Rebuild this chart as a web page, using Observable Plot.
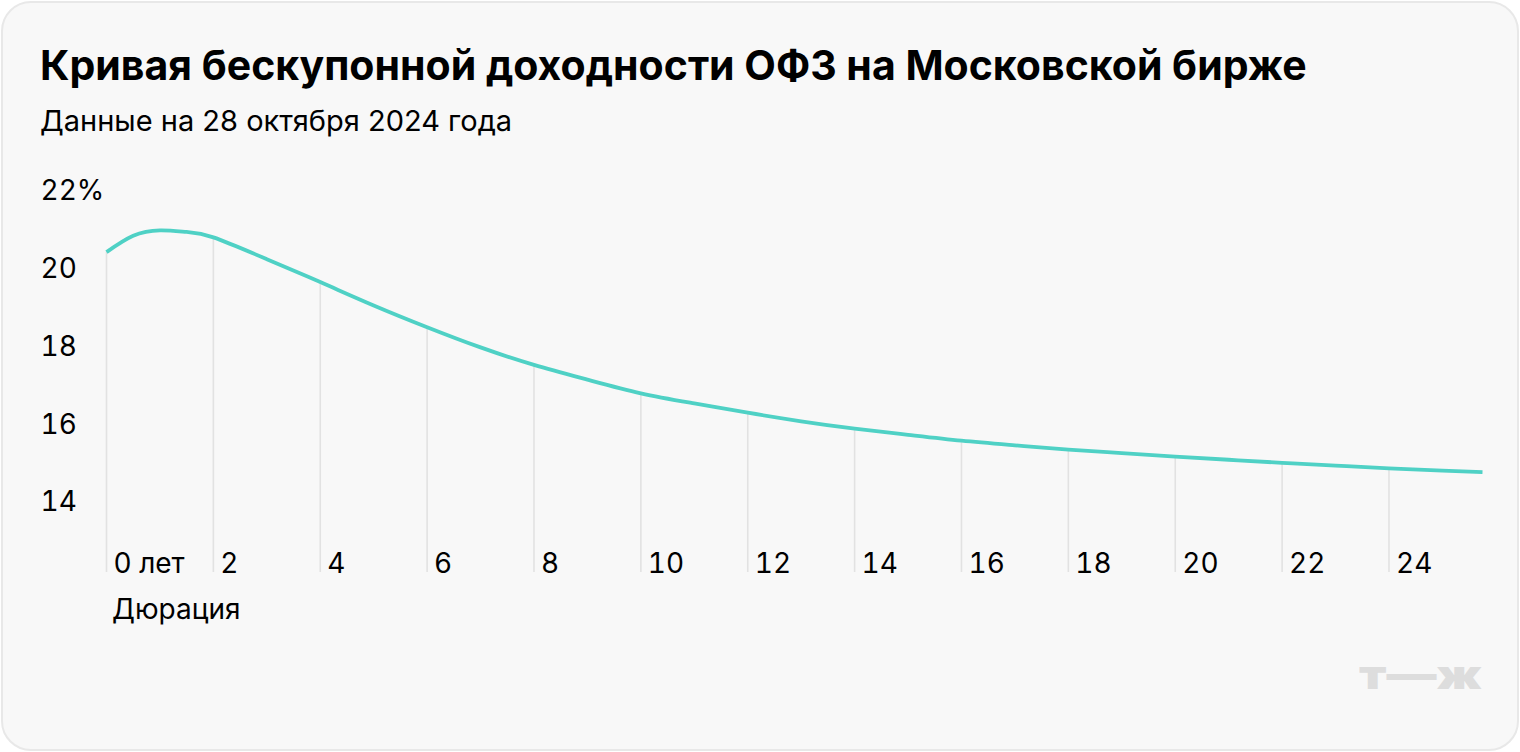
<!DOCTYPE html>
<html>
<head>
<meta charset="utf-8">
<script src="https://cdn.jsdelivr.net/npm/d3@7"></script>
<script src="https://cdn.jsdelivr.net/npm/@observablehq/plot@0.6"></script>
<style>
  html, body { margin: 0; padding: 0; background: #ffffff; }
  body { width: 1520px; height: 752px; position: relative; overflow: hidden; font-family: Inter, Roboto, sans-serif; color: #000; }
  #card { position: absolute; left: 1px; top: 1px; width: 1514px; height: 746px; background: #f8f8f8; border: 2px solid #e8e8e8; border-radius: 30px; }
  #title { position: absolute; left: 40px; top: 40px; font-size: 41px; font-weight: 700; white-space: nowrap; }
  #subtitle { position: absolute; left: 40px; top: 103px; font-size: 29px; font-weight: 400; white-space: nowrap; }
  #chart { position: absolute; left: 0; top: 150px; }
  #xlabel { position: absolute; left: 112px; top: 592px; font-size: 28px; white-space: nowrap; }
  #logo { position: absolute; left: 1359px; top: 650px; font-size: 40px; font-weight: 900; color: #dddddd; white-space: nowrap; transform: scaleX(1.25); transform-origin: left top; }
</style>
</head>
<body>
<div id="card"></div>
<div id="title">Кривая бескупонной доходности ОФЗ на Московской бирже</div>
<div id="subtitle">Данные на 28 октября 2024 года</div>
<div id="chart"></div>
<div id="xlabel">Дюрация</div>
<div id="logo">т—ж</div>
<script>
// Duration (years) and zero-coupon yield (%)
const durations = [0, 0.5, 1, 1.5, 2, 3, 4, 5, 6, 7, 8, 9, 10, 11, 12, 13, 14, 15, 16, 17, 18, 19, 20, 21, 22, 23, 24, 25, 25.75];
const yields    = [20.44, 20.86, 21.00, 20.96, 20.82, 20.26, 19.67, 19.07, 18.51, 17.99, 17.54, 17.16, 16.81, 16.55, 16.31, 16.09, 15.90, 15.74, 15.59, 15.47, 15.36, 15.27, 15.18, 15.10, 15.02, 14.95, 14.88, 14.82, 14.78];
const xTicks = [0, 2, 4, 6, 8, 10, 12, 14, 16, 18, 20, 22, 24];
const yTicks = [14, 16, 18, 20, 22];
const yFloor = 12.2;

const data = durations.map((d, i) => ({x: d, y: yields[i]}));
const ruleData = xTicks.map(t => ({x: t, y: yields[durations.indexOf(t)]}));

const chart = Plot.plot({
  width: 1520,
  height: 500,
  marginLeft: 106,
  marginRight: 38,
  marginTop: 40,
  marginBottom: 78,
  style: { background: "transparent", fontFamily: "Inter, Roboto, sans-serif", fontSize: "28px", color: "#000" },
  x: { domain: [0, 25.75], range: [106, 1482] },
  y: { domain: [yFloor, 22], range: [422, 41] },
  marks: [
    Plot.ruleX(ruleData, { x: "x", y1: "y", y2: yFloor, stroke: "#e2e2e2", strokeWidth: 1.6 }),
    Plot.line(data, { x: "x", y: "y", stroke: "#4fd1c5", strokeWidth: 3.8, curve: "natural", strokeLinecap: "butt" }),
    Plot.axisY(yTicks, { anchor: "left", tickSize: 0, tickPadding: 0, textAnchor: "start", dx: -66, fill: "#000", fontSize: 28,
      tickFormat: d => d === 22 ? "22%" : String(d), label: null }),
    Plot.axisX(xTicks, { anchor: "bottom", tickSize: 0, tickPadding: 0, textAnchor: "start", lineAnchor: "bottom", dx: 7, dy: 0, fill: "#000", fontSize: 28,
      tickFormat: d => d === 0 ? "0 лет" : String(d), label: null })
  ]
});
document.getElementById("chart").appendChild(chart);
</script>
</body>
</html>
